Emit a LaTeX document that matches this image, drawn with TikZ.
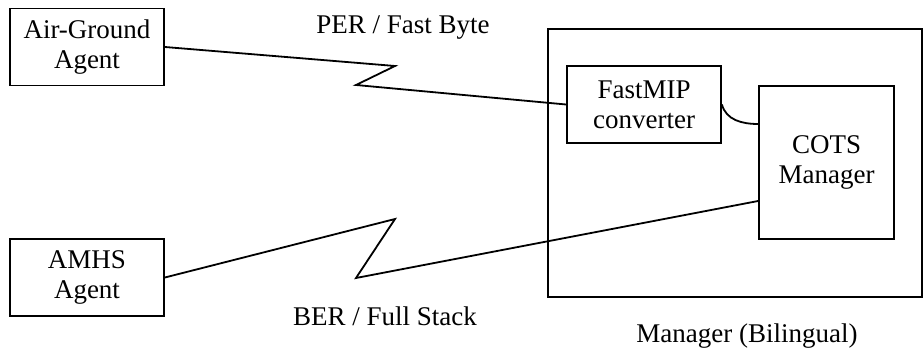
\documentclass[tikz,border=0pt]{standalone}
\usepackage{fontspec}
\setmainfont{Liberation Serif}
\usepackage{tikz}
\usetikzlibrary{arrows,shapes,positioning,calc}
\tikzstyle{link} = [line width=0.9pt, color=black]
\tikzstyle{agentbox} = [rectangle, draw=black, line width=0.9pt, align=center, text centered, minimum width=77pt, minimum height=38.5pt, inner sep=0pt, font=\fontsize{13.5}{15}\selectfont]
\tikzstyle{lbl} = [font=\fontsize{13.5}{15}\selectfont]

\begin{document}
\begin{tikzpicture}[x=0.5pt, y=-0.5pt]
    \useasboundingbox (0,0) rectangle (924,352);
    % Manager box
    \node[agentbox, minimum width=187pt, minimum height=134pt] (mgr) at (735,163) {};
    \node[lbl] (mgrlbl) at (747,336) {Manager (Bilingual)};

    % Agent boxes
    \node[agentbox] (ag) at (87,47) {Air-Ground\\Agent};
    \node[agentbox] (amhs) at (87,277.5) {AMHS\\Agent};
    \node[agentbox] (fmip) at (644,104.5) {FastMIP\\converter};
    \node[agentbox, minimum width=67.5pt, minimum height=76.5pt] (cots) at (826.5,162.5) {COTS\\Manager};

    % Links
    \draw[link] (ag.east) -- (395,66) -- (356,85) -- (fmip.west);
    \draw[link] (amhs.east) -- (395,219) -- (356,278) -- ([yshift=-19.25pt]cots.west);
    \draw[link] (fmip.east) to[out=-75, in=180] ([yshift=19.25pt]cots.west);
    \node[lbl] (per) at (403,28) {PER / Fast Byte};
    \node[lbl] (ber) at (385,316) {BER / Full Stack};
\end{tikzpicture}
\end{document}
